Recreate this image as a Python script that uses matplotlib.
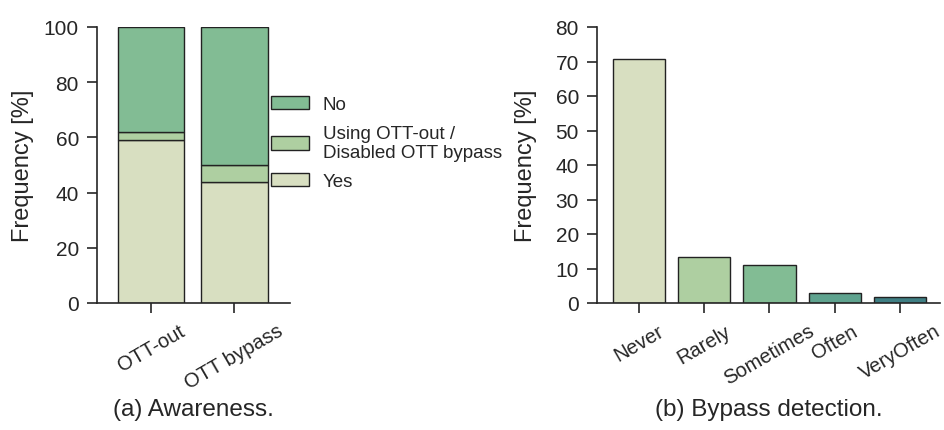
import matplotlib
matplotlib.use("Agg")

import numpy as np
import matplotlib.pyplot as plt


# ─────────────────────────────────────────────────────────────────────────────
#  DATA
# ─────────────────────────────────────────────────────────────────────────────

aware_cats   = ["OTT-out", "OTT bypass"]
aware_yes    = [59, 44]
aware_using  = [3, 6]
aware_no     = [38, 50]
aware_labels = ["Yes", "Using OTT-out /\nDisabled OTT bypass", "No"]

detect_cats  = ["Never", "Rarely", "Sometimes", "Often", "VeryOften"]
detect_vals  = [70.7, 13.3, 10.9, 2.8, 1.6]

pal = ["#d8dfc1", "#aecfa1", "#82bc94", "#5fa38f", "#3f7f84"]
ink = "#262626"


plt.rcParams["font.family"] = ["Liberation Sans", "DejaVu Sans"]
plt.rcParams["text.color"] = ink
plt.rcParams["axes.labelcolor"] = ink
plt.rcParams["xtick.color"] = ink
plt.rcParams["ytick.color"] = ink


def style_axes(ax):
    for side in ["top", "right"]:
        ax.spines[side].set_visible(False)
    for side in ["left", "bottom"]:
        ax.spines[side].set_color(ink)
        ax.spines[side].set_linewidth(1.2)
    ax.tick_params(direction="out", length=7, width=1.2)
    ax.tick_params(axis="y", labelsize=15, pad=6)
    ax.tick_params(axis="x", labelsize=14.5, pad=6)


fig = plt.figure(figsize=(9.45, 4.31), dpi=100)

bottom = 1 - 304 / 431
height = 276 / 431

# ─────────────────────────────────────────────────────────────────────────────
#  (a) Awareness — stacked bars
# ─────────────────────────────────────────────────────────────────────────────

ax1 = fig.add_axes([97 / 945, bottom, 193 / 945, height])
x1 = np.arange(len(aware_cats))

edge = dict(edgecolor="#222222", linewidth=1.0, width=0.8)
b_yes = ax1.bar(x1, aware_yes, color=pal[0], **edge)
b_use = ax1.bar(x1, aware_using, bottom=aware_yes, color=pal[1], **edge)
b_no = ax1.bar(x1, aware_no, bottom=np.add(aware_yes, aware_using),
               color=pal[2], **edge)

ax1.set_xlim(-0.65, 1.67)
ax1.set_ylim(0, 100)
ax1.set_yticks(np.arange(0, 101, 20))
ax1.set_xticks(x1)
ax1.set_xticklabels(aware_cats, rotation=30, ha="center")
style_axes(ax1)

ax1.set_ylabel("Frequency [%]", fontsize=17)
ax1.yaxis.set_label_coords(-0.325, 0.5)
ax1.set_xlabel("(a) Awareness.", fontsize=17.5, va="top")
ax1.xaxis.set_label_coords(0.5, -0.345)

fig.legend(
    [b_no, b_use, b_yes],
    [aware_labels[2], aware_labels[1], aware_labels[0]],
    loc="center left",
    bbox_to_anchor=(271 / 945, 1 - 144 / 431),
    frameon=False,
    fontsize=13.5,
    handlelength=2.0,
    handleheight=0.7,
    handletextpad=0.75,
    labelspacing=0.6,
    borderpad=0,
    borderaxespad=0,
)

# ─────────────────────────────────────────────────────────────────────────────
#  (b) Bypass detection
# ─────────────────────────────────────────────────────────────────────────────

ax2 = fig.add_axes([597 / 945, bottom, 343 / 945, height])
x2 = np.arange(len(detect_cats))

ax2.bar(x2, detect_vals, color=pal, **edge)

ax2.set_xlim(-0.64, 4.61)
ax2.set_ylim(0, 80)
ax2.set_yticks(np.arange(0, 81, 10))
ax2.set_xticks(x2)
ax2.set_xticklabels(detect_cats, rotation=30, ha="center")
style_axes(ax2)

ax2.set_ylabel("Frequency [%]", fontsize=17)
ax2.yaxis.set_label_coords(-0.175, 0.5)
ax2.set_xlabel("(b) Bypass detection.", fontsize=17.5, va="top")
ax2.xaxis.set_label_coords(0.5, -0.345)

plt.savefig("out.png", dpi=100)
